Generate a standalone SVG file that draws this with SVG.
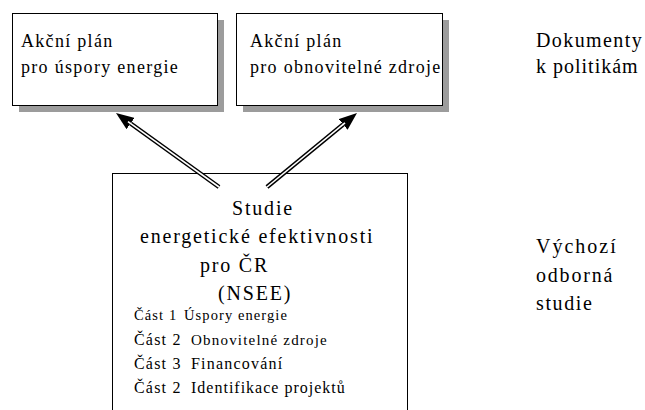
<svg xmlns="http://www.w3.org/2000/svg" width="645" height="410" viewBox="0 0 645 410" font-family="'Liberation Serif', 'Times New Roman', serif">
<style>
text{font-family:'Liberation Serif','Times New Roman',serif;fill:#000}
.box{fill:#fff;stroke:#000;stroke-width:1}
.shadow{fill:#9c9c9c}
.lbl{font-size:18px;letter-spacing:1.3px}
.big{font-size:20px;letter-spacing:1.8px}
.it{font-size:16px;letter-spacing:1.2px}
.outer{stroke:#000;stroke-width:4.5;fill:none}
.inner{stroke:#fff;stroke-width:1.6;fill:none}
</style>
<defs>
<marker id="ah" markerUnits="userSpaceOnUse" viewBox="0 0 18 14" refX="0" refY="7" markerWidth="18" markerHeight="14" orient="auto">
<path d="M0,0 L18,7 L0,14 z" fill="#000"/>
</marker>
</defs>
<rect width="645" height="410" fill="#fff"/>
<g id="plan-uspory">
<rect class="shadow" x="19" y="20" width="205" height="92"/>
<rect class="box" x="12.5" y="13.5" width="205" height="92"/>
<text class="lbl" x="21" y="47">Akční plán</text>
<text class="lbl" x="21" y="73">pro úspory energie</text>
</g>
<g id="plan-obnovitelne">
<rect class="shadow" x="243" y="20" width="206" height="92"/>
<rect class="box" x="236.5" y="13.5" width="206" height="92"/>
<text class="lbl" x="250" y="47">Akční plán</text>
<text class="lbl" x="250" y="73">pro obnovitelné zdroje</text>
</g>
<g id="studie">
<rect class="box" x="112.5" y="173.5" width="295" height="260"/>
<text class="big" x="232" y="215">Studie</text>
<text class="big" x="140" y="243">energetické efektivnosti</text>
<text class="big" x="200" y="272">pro ČR</text>
<text class="big" x="218" y="300">(NSEE)</text>
<text x="134" y="320" style="font-size:14.5px;letter-spacing:1.1px">Část 1<tspan x="184" textLength="104" lengthAdjust="spacing">Úspory energie</tspan></text>
<text class="it" x="134" y="345">Část 2<tspan x="191" style="font-size:15px">Obnovitelné zdroje</tspan></text>
<text class="it" x="134" y="369">Část 3<tspan x="191">Financování</tspan></text>
<text class="it" x="134" y="393">Část 2<tspan x="191" style="letter-spacing:1px">Identifikace projektů</tspan></text>
</g>
<g id="labels">
<text class="big" x="536" y="47" style="letter-spacing:1.4px">Dokumenty</text>
<text class="big" x="536" y="73" style="letter-spacing:1px">k politikám</text>
<text class="big" x="536" y="253" style="letter-spacing:2px">Výchozí</text>
<text class="big" x="536" y="282">odborná</text>
<text class="big" x="536" y="310" style="letter-spacing:1.6px">studie</text>
</g>
<g id="connectors">
<line class="outer" x1="219" y1="187" x2="130.6" y2="123.5" marker-end="url(#ah)"/>
<line class="inner" x1="219" y1="187" x2="128" y2="121.6"/>
<line class="outer" x1="267" y1="187" x2="343.1" y2="124.4" marker-end="url(#ah)"/>
<line class="inner" x1="267" y1="187" x2="345" y2="122.8"/>
</g>
</svg>
